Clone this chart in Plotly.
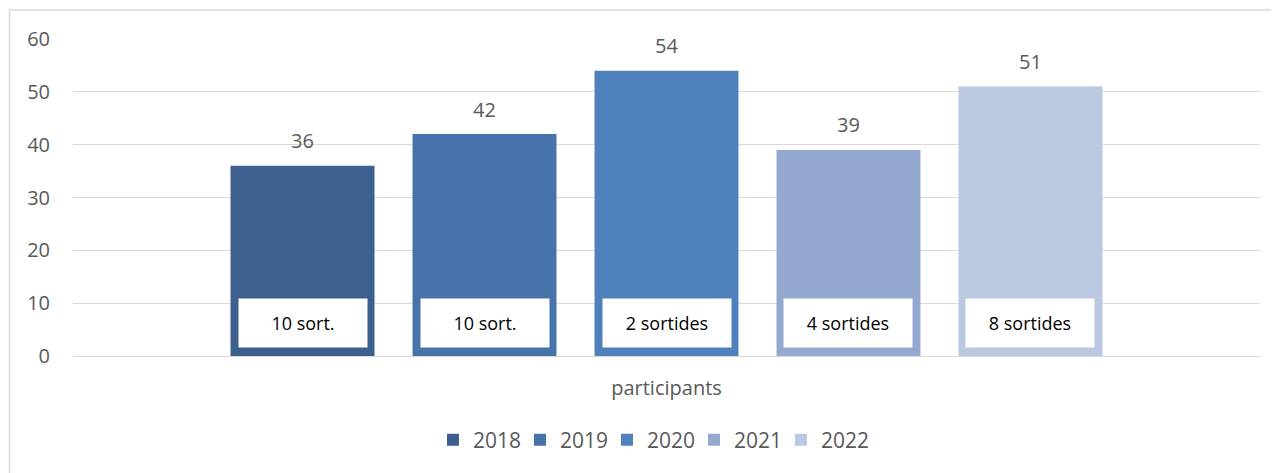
import plotly.graph_objects as go

category = "participants"
years = ["2018", "2019", "2020", "2021", "2022"]
participants = [36, 42, 54, 39, 51]
trips = ["10 sort.", "10 sort.", "2 sortides", "4 sortides", "8 sortides"]
colors = ["#3C5F8D", "#4673A9", "#4F81BD", "#95A9D0", "#BAC8E1"]
y_ticks = [0, 10, 20, 30, 40, 50, 60]

FONT = "Open Sans"
GREY = "#595959"
bargap = 0.2334
bargroupgap = 0.209

fig = go.Figure()
for yr, val, col in zip(years, participants, colors):
    fig.add_trace(go.Bar(x=[category], y=[val], name=yr, marker=dict(color=col, line=dict(width=0))))

n = len(years)
group_w = 1 - bargap
slot = group_w / n
for i, (val, trip) in enumerate(zip(participants, trips)):
    xc = -group_w / 2 + (i + 0.5) * slot
    # value label above the bar
    fig.add_annotation(x=xc, y=val, xref="x", yref="y", text=str(val), showarrow=False,
                       yanchor="middle", yshift=25, font=dict(family=FONT, size=20, color=GREY))
    # white box with number of trips
    fig.add_annotation(x=xc, y=0, xref="x", yref="y", text=trip, showarrow=False,
                       yanchor="bottom", yshift=8, width=128, height=48, bgcolor="white",
                       borderpad=0, font=dict(family=FONT, size=18, color="black"))

# light border around the chart area
fig.add_shape(type="rect", xref="paper", yref="paper", x0=-0.0535, x1=1.2, y0=-0.6, y1=1.0915,
              line=dict(color="#D9D9D9", width=1.5), fillcolor="rgba(0,0,0,0)", layer="below")

fig.update_layout(
    width=1271, height=465,
    margin=dict(l=65, r=19, t=31, b=109),
    paper_bgcolor="white", plot_bgcolor="white",
    barmode="group", bargap=bargap, bargroupgap=bargroupgap,
    font=dict(family=FONT, size=20, color=GREY),
    showlegend=True,
    legend=dict(orientation="h", x=0.4865, xanchor="center", y=-0.265, yanchor="middle",
                font=dict(family=FONT, size=21, color=GREY), entrywidth=42, itemclick=False),
    xaxis=dict(showgrid=False, showline=False, ticks="outside", ticklen=14,
               tickcolor="rgba(0,0,0,0)", tickfont=dict(family=FONT, size=20, color=GREY)),
    yaxis=dict(range=[0, 60], tickvals=y_ticks, showgrid=True, gridcolor="#D9D9D9", gridwidth=1,
               zeroline=True, zerolinecolor="#D9D9D9", zerolinewidth=1, showline=False,
               ticks="outside", ticklen=18, tickcolor="rgba(0,0,0,0)",
               tickfont=dict(family=FONT, size=20, color=GREY)),
)

fig.write_html("out.html")
